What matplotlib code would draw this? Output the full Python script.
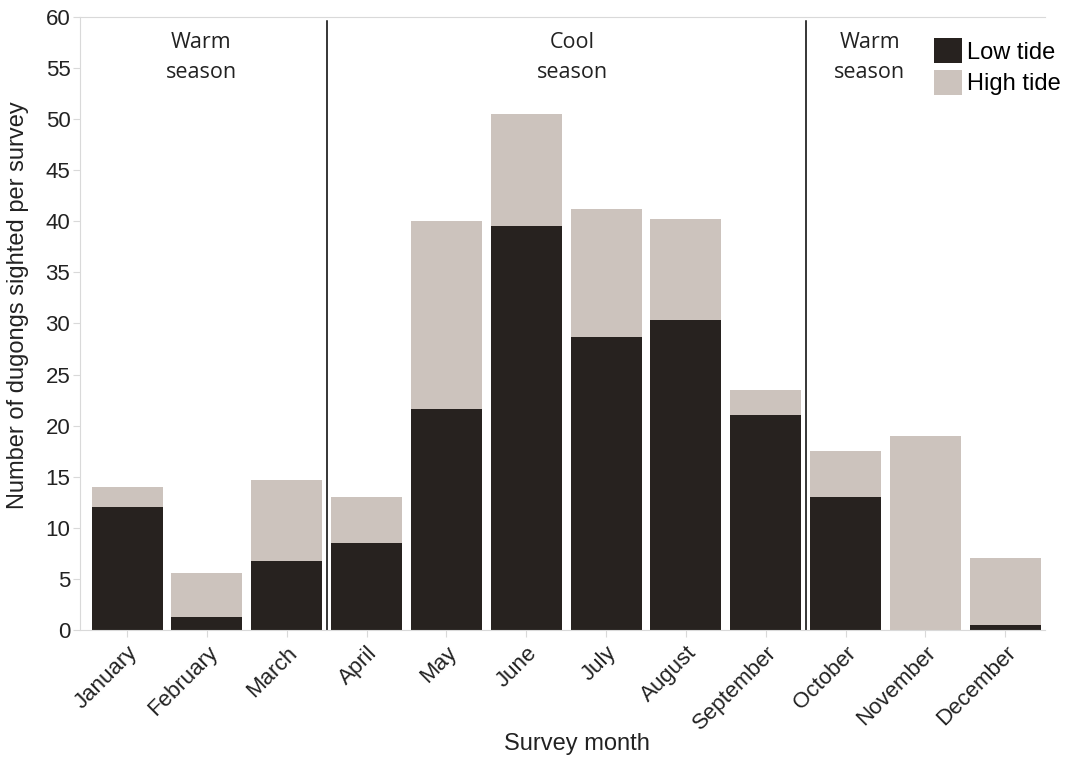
import matplotlib.pyplot as plt
import numpy as np

plt.rcParams['font.family'] = ['Liberation Sans', 'DejaVu Sans']

months = ["January", "February", "March", "April", "May", "June", "July",
          "August", "September", "October", "November", "December"]
low_tide = [12.0, 1.3, 6.7, 8.5, 21.6, 39.5, 28.7, 30.3, 21.0, 13.0, 0.0, 0.5]
total = [14.0, 5.6, 14.7, 13.0, 40.0, 50.5, 41.2, 40.2, 23.5, 17.5, 19.0, 7.0]
high_tide = [t - l for t, l in zip(total, low_tide)]

seasons = [("Warm\nseason", 0.93), ("Cool\nseason", 5.58), ("Warm\nseason", 9.3)]
season_breaks = [2.5, 8.5]

dark = "#27221f"
light = "#ccc3bd"
grey = "#d9d9d9"

fig = plt.figure(figsize=(10.7, 7.58), dpi=100)
ax = fig.add_axes([0.0748, 0.169, 0.902, 0.8085])

x = np.arange(len(months))
ax.bar(x, low_tide, width=0.89, color=dark, label="Low tide")
ax.bar(x, high_tide, bottom=low_tide, width=0.89, color=light, label="High tide")

for b in season_breaks:
    ax.plot([b, b], [0, 59.6], color="black", lw=1.1)

for txt, xp in seasons:
    ax.text(xp, 58.5, txt, ha="center", va="top", fontsize=15.5,
            family="Open Sans", color="#222222", linespacing=1.55)

ax.set_xlim(-0.59, 11.5)
ax.set_ylim(0, 60)
ax.set_yticks(range(0, 61, 5))
ax.set_xticks(x)
ax.set_xticklabels(months, rotation=45, ha="right", rotation_mode="anchor")
ax.tick_params(axis="both", labelsize=16, color=grey, length=5, labelcolor="#222222")
ax.tick_params(axis="x", pad=4)
ax.tick_params(axis="y", pad=2)

for s in ["top", "left", "bottom"]:
    ax.spines[s].set_color(grey)
ax.spines["right"].set_visible(False)

ax.set_ylabel("Number of dugongs sighted per survey", fontsize=17, color="#222222")
ax.set_xlabel("Survey month", fontsize=17, color="#222222")
ax.yaxis.set_label_coords(-0.053, 0.53)
ax.xaxis.set_label_coords(0.515, -0.168)

ax.legend(loc="upper right", bbox_to_anchor=(1.038, 1.0), frameon=False,
          fontsize=17, handlelength=1.2, handleheight=1.25, handletextpad=0.2,
          labelspacing=0.25)

fig.savefig("out.png", dpi=100)
